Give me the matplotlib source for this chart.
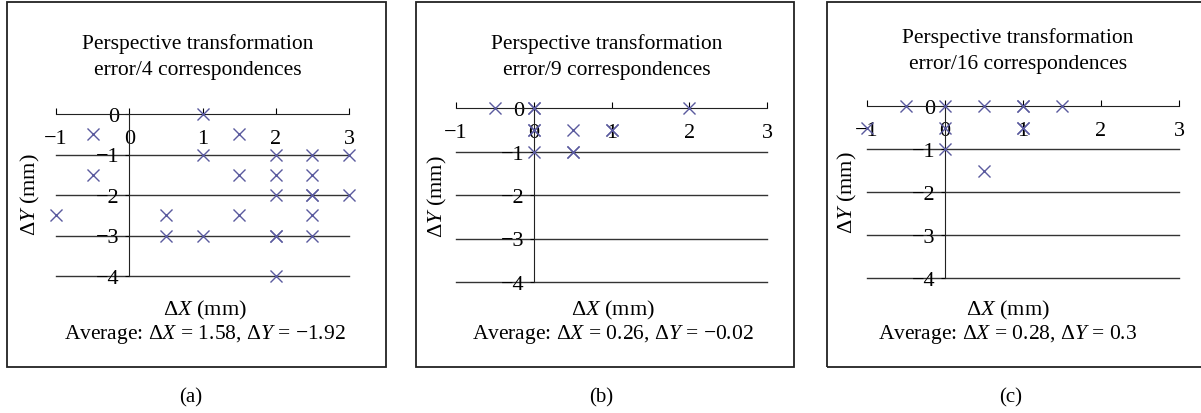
import numpy as np
import matplotlib
matplotlib.use('Agg')
import matplotlib.pyplot as plt
from matplotlib.patches import Rectangle

plt.rcParams['font.family'] = ['Liberation Serif', 'DejaVu Serif']
plt.rcParams['mathtext.fontset'] = 'custom'
plt.rcParams['mathtext.rm'] = 'Liberation Serif'
plt.rcParams['mathtext.it'] = 'Liberation Serif:italic'

# 误差点 (mm)
a_dx = [1, -0.5, 1.5, 1, 2, 2.5, 3, -0.5, 1.5, 2, 2.5, 2, 2.5, 2.5, 3,
        -1, 0.5, 1.5, 2.5, 0.5, 1, 2, 2, 2.5, 2]
a_dy = [0, -0.5, -0.5, -1, -1, -1, -1, -1.5, -1.5, -1.5, -1.5, -2, -2, -2, -2,
        -2.5, -2.5, -2.5, -2.5, -3, -3, -3, -3, -3, -4]

b_dx = [-0.5, 0, 0, 2, 0, 0, 0.5, 1, 1, 0, 0.5, 0.5]
b_dy = [0, 0, 0, 0, -0.5, -0.5, -0.5, -0.5, -0.5, -1, -1, -1]

c_dx = [-0.5, 0, 0.5, 1, 1, 1.5, -1, 0, 1, 1, 0, 0.5]
c_dy = [0, 0, 0, 0, 0, 0, -0.5, -0.5, -0.5, -0.5, -1, -1.5]

x_ticks = [-1, 0, 1, 2, 3]
y_ticks = [0, -1, -2, -3, -4]

n_corr = [4, 9, 16]
avg_text = [r'Average: $\Delta X$ = 1.58, $\Delta Y$ = $-$1.92',
            r'Average: $\Delta X$ = 0.26, $\Delta Y$ = $-$0.02',
            r'Average: $\Delta X$ = 0.28, $\Delta Y$ = 0.3']
panel_labels = ['(a)', '(b)', '(c)']

W, H = 1201, 414
fig = plt.figure(figsize=(W / 100, H / 100), dpi=100)

# 像素布局
ax_px = [(56, 349, 115, 277), (456, 767, 109, 283), (867, 1179, 107, 279)]
box_px = [(7, 386), (416, 794), (827, 1210)]
title_px = [(198, 57), (607, 57), (1018, 51)]
xlab_px = [205, 613, 1008]
ylab_px = [(30, 195), (437, 197), (847, 193)]
lab_px = [191, 601, 1011]

data = [(a_dx, a_dy), (b_dx, b_dy), (c_dx, c_dy)]
mcol = '#5a5a9e'

for i in range(3):
    x0, x1, yt, yb = ax_px[i]
    ax = fig.add_axes([x0 / W, (H - yb) / H, (x1 - x0) / W, (yb - yt) / H])
    ax.set_xlim(-1, 3)
    ax.set_ylim(-4, 0)
    for s in ['top', 'right']:
        ax.spines[s].set_visible(False)
    ax.spines['left'].set_position(('data', 0))
    ax.spines['bottom'].set_position(('data', 0))
    ax.spines['left'].set_color('#222222')
    ax.spines['bottom'].set_color('#222222')
    ax.set_xticks(x_ticks)
    ax.set_yticks(y_ticks)
    ax.tick_params(axis='x', direction='in', length=4, pad=11, labelsize=16)
    ax.tick_params(axis='y', direction='out', length=3, pad=4, labelsize=16)
    for yv in y_ticks[1:]:
        ax.axhline(yv, color='#333333', lw=1.0, clip_on=False, zorder=1)
    ax.scatter(data[i][0], data[i][1], marker='x', s=75, color=mcol,
               linewidths=1.0, clip_on=False, zorder=3)

    tx, ty = title_px[i]
    fig.text(tx / W, 1 - ty / H,
             'Perspective transformation\nerror/%d correspondences' % n_corr[i],
             ha='center', va='center', fontsize=15.5, linespacing=1.45)
    fig.text(xlab_px[i] / W, 1 - 310 / H, r'$\Delta X$ (mm)',
             ha='center', va='center', fontsize=16)
    fig.text(xlab_px[i] / W, 1 - 335 / H, avg_text[i],
             ha='center', va='center', fontsize=15.5)
    lx, ly = ylab_px[i]
    fig.text(lx / W, 1 - ly / H, r'$\Delta Y$ (mm)', rotation=90,
             ha='center', va='center', fontsize=16)
    fig.text(lab_px[i] / W, 1 - 398 / H, panel_labels[i],
             ha='center', va='center', fontsize=15)

    bx0, bx1 = box_px[i]
    fig.patches.append(Rectangle((bx0 / W, 1 - 368 / H), (bx1 - bx0) / W,
                                 365 / H, transform=fig.transFigure,
                                 fill=False, edgecolor='#222222', lw=1.3))

fig.savefig('out.png', dpi=100)
